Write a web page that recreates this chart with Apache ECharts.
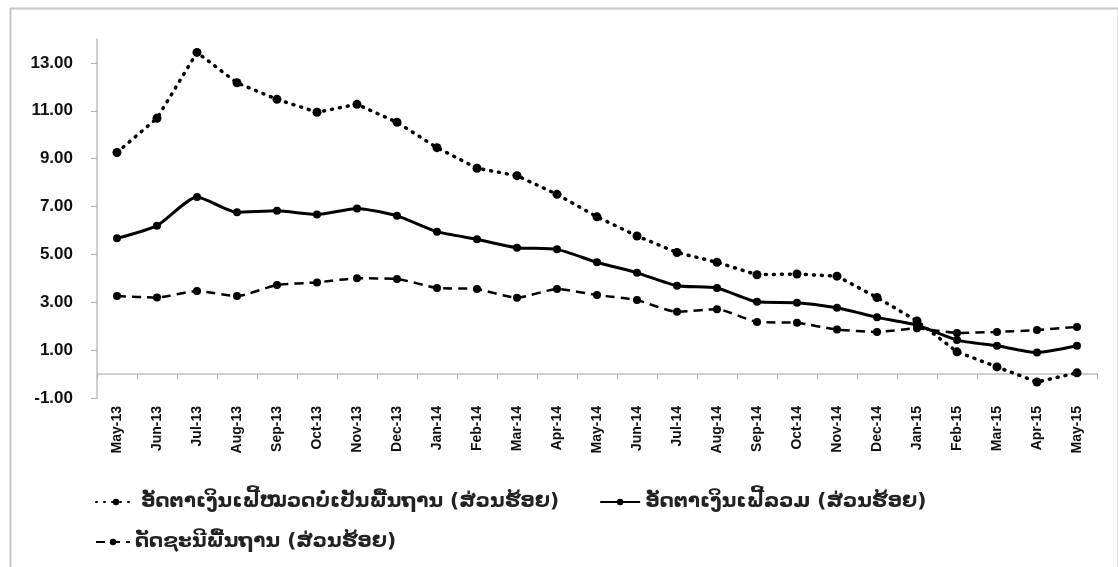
<!DOCTYPE html>
<html>
<head>
<meta charset="utf-8">
<script src="https://cdn.jsdelivr.net/npm/echarts@6/dist/echarts.min.js"></script>
<style>html,body{margin:0;padding:0;background:#fff}#c{width:1118px;height:567px}</style>
</head>
<body>
<div id="c"></div>
<script>
const categories = ['May-13','Jun-13','Jul-13','Aug-13','Sep-13','Oct-13','Nov-13','Dec-13','Jan-14','Feb-14','Mar-14','Apr-14','May-14','Jun-14','Jul-14','Aug-14','Sep-14','Oct-14','Nov-14','Dec-14','Jan-15','Feb-15','Mar-15','Apr-15','May-15'];
const nonCore = [9.26,10.69,13.44,12.17,11.48,10.94,11.27,10.52,9.46,8.60,8.29,7.51,6.57,5.77,5.08,4.67,4.15,4.18,4.09,3.20,2.22,0.93,0.30,-0.33,0.05];
const headline = [5.67,6.20,7.40,6.76,6.82,6.67,6.92,6.61,5.95,5.63,5.28,5.21,4.67,4.23,3.69,3.60,3.02,2.98,2.77,2.37,2.04,1.42,1.18,0.90,1.18];
const core = [3.26,3.20,3.47,3.26,3.72,3.83,4.00,3.97,3.60,3.55,3.19,3.55,3.30,3.09,2.60,2.71,2.18,2.14,1.86,1.76,1.91,1.72,1.76,1.84,1.97];
const seriesNames = ['ອັດຕາເງິນເຟີ້ໝວດບໍ່ເປັນພື້ນຖານ (ສ່ວນຮ້ອຍ)','ອັດຕາເງິນເຟີ້ລວມ (ສ່ວນຮ້ອຍ)','ດັດຊະນີພື້ນຖານ (ສ່ວນຮ້ອຍ)'];
const yMin = -1, yMax = 14, yInterval = 2;

const chart = echarts.init(document.getElementById('c'), null, {renderer:'canvas'});
const legendText = {fontFamily:'DejaVu Sans', fontWeight:'bold', fontSize:20, color:'#222'};
chart.setOption({
  animation:false,
  backgroundColor:'#fff',
  graphic:[{type:'rect', left:8, top:6, shape:{width:1108, height:570}, style:{fill:'none', stroke:'#c8c8c8', lineWidth:2}, silent:true}],
  grid:{left:97, right:21, top:39, bottom:169, containLabel:false},
  legend:[
    {data:[seriesNames[0], seriesNames[1]], left:90, top:487, itemWidth:40, itemHeight:8, itemGap:40, textStyle:legendText},
    {data:[seriesNames[2]], left:90, top:527, itemWidth:34, itemHeight:8, textStyle:legendText}
  ],
  xAxis:{type:'category', data:categories, boundaryGap:true,
    axisLine:{onZero:true, lineStyle:{color:'#c0c0c0', width:1.5}},
    axisTick:{show:true, length:5, lineStyle:{color:'#b0b0b0'}},
    axisLabel:{rotate:90, interval:0, fontFamily:'Liberation Sans', fontWeight:'bold', fontSize:14, color:'#111', margin:8}
  },
  yAxis:{type:'value', min:yMin, max:yMax, interval:yInterval,
    splitLine:{show:false},
    axisLine:{show:true, lineStyle:{color:'#c0c0c0', width:1.5}},
    axisTick:{show:true, length:6, lineStyle:{color:'#b0b0b0'}},
    axisLabel:{showMaxLabel:false, formatter:v=>v.toFixed(2), fontFamily:'Liberation Sans', fontWeight:'bold', fontSize:17, color:'#111', margin:24}
  },
  series:[
    {name:seriesNames[0], type:'line', data:nonCore, symbol:'circle', symbolSize:9,
     itemStyle:{color:'#000'}, lineStyle:{color:'#000', width:3.5, type:[1,7], cap:'round'}},
    {name:seriesNames[1], type:'line', data:headline, symbol:'circle', symbolSize:8, smooth:0.2,
     itemStyle:{color:'#000'}, lineStyle:{color:'#000', width:3}},
    {name:seriesNames[2], type:'line', data:core, symbol:'circle', symbolSize:8, smooth:0.2,
     itemStyle:{color:'#000'}, lineStyle:{color:'#000', width:2.5, type:[9,6]}}
  ]
});
</script>
</body>
</html>
